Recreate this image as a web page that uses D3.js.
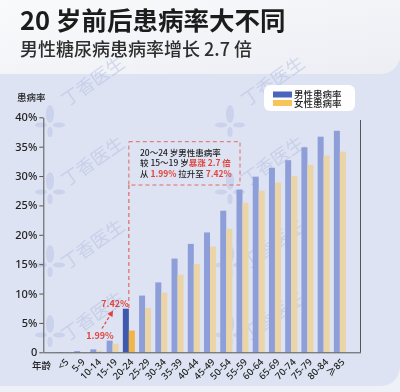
<!DOCTYPE html>
<html><head><meta charset="utf-8">
<script src="https://cdn.jsdelivr.net/npm/d3@7/dist/d3.min.js"></script>
<style>
html,body{margin:0;padding:0;background:#eef1f8;}
svg{display:block;font-family:"Noto Sans CJK SC","Noto Sans",sans-serif;}
</style></head>
<body>
<svg id="c" width="400" height="392"></svg>
<script>
const categories = ["<5","5-9","10-14","15-19","20-24","25-29","30-34","35-39","40-44","45-49","50-54","55-59","60-64","65-69","70-74","75-79","80-84","≥85"];
const maleRates   = [0.05,0.2,0.5,1.99,7.42,9.65,11.9,15.95,18.45,20.4,24.1,27.7,29.9,31.4,32.7,34.9,36.7,37.7];
const femaleRates = [0.03,0.05,0.25,1.45,3.7,7.55,10.15,13.2,15.05,18.0,21.0,25.45,27.5,28.9,30.0,31.9,33.5,34.15];
const yTicks = [0,5,10,15,20,25,30,35,40];
const seriesNames = ["男性患病率","女性患病率"];
const highlightCat = "20-24";

const svg = d3.select("#c");

// backgrounds
svg.append("path")
  .attr("d", `M-10,60 H400 V364 Q400,386 378,386 H-10 Z`)
  .attr("fill", "#dde3f2");
const defs = svg.append("defs");
const hg = defs.append("linearGradient").attr("id","hg").attr("x1",0).attr("y1",0).attr("x2",1).attr("y2",1);
hg.append("stop").attr("offset","0%").attr("stop-color","#fafbfc");
hg.append("stop").attr("offset","100%").attr("stop-color","#eceef4");
svg.append("path")
  .attr("d", `M-10,-10 H400 V52 Q400,74 378,74 H-10 Z`)
  .attr("fill", "url(#hg)");

// watermarks
const wm = svg.append("g").attr("opacity",0.5);
const wmCols = [92, 272];
const wmRows = [80, 160, 243, 315];
const logoRows = [123, 190, 263, 333];
wmCols.forEach(cx => {
  wmRows.forEach(cy => {
    wm.append("text").attr("x",0).attr("y",0)
      .attr("transform",`translate(${cx},${cy}) rotate(-35)`)
      .attr("text-anchor","middle").attr("dominant-baseline","central")
      .attr("font-size",18).attr("fill","#b3bde2").text("丁香医生");
  });
  logoRows.forEach(ly => {
    const lx = cx - 42;
    const g = wm.append("g").attr("transform",`translate(${lx},${ly})`).attr("fill","#b6c0e6");
    g.append("ellipse").attr("cx",0).attr("cy",-9).attr("rx",4).attr("ry",9);
    g.append("ellipse").attr("cx",-9).attr("cy",2).attr("rx",6).attr("ry",2.6);
    g.append("ellipse").attr("cx",9).attr("cy",2).attr("rx",6).attr("ry",2.6);
    g.append("ellipse").attr("cx",0).attr("cy",9).attr("rx",2.6).attr("ry",5);
  });
});

// titles
svg.append("text").attr("x",20).attr("y",30).attr("font-size",25.5).attr("font-weight",700)
  .attr("fill","#1c1c1c").text("20 岁前后患病率大不同");
svg.append("text").attr("x",20).attr("y",56).attr("font-size",18).attr("font-weight",500)
  .attr("fill","#2e2e2e").text("男性糖尿病患病率增长 2.7 倍");

// scales
const x = d3.scaleBand().domain(categories).range([43.3, 360.5]).paddingInner(0.26).paddingOuter(0.9);
const y = d3.scaleLinear().domain([0,40]).range([352.3, 117.3]);
const bw = x.bandwidth()/2;

// y label
svg.append("text").attr("x",17).attr("y",100.5).attr("font-size",9.5).attr("font-weight",500)
  .attr("fill","#222").text("患病率");

// bars
const data = categories.map((c,i)=>({c, m:maleRates[i], f:femaleRates[i]}));
const bars = svg.append("g");
bars.selectAll("rect.m").data(data).join("rect").attr("class","m")
  .attr("x", d=>x(d.c)).attr("width", bw)
  .attr("y", d=>y(d.m)).attr("height", d=>y(0)-y(d.m))
  .attr("fill", d=> d.c===highlightCat ? "#3d58ad" : "#8e9ed9");
bars.selectAll("rect.f").data(data).join("rect").attr("class","f")
  .attr("x", d=>x(d.c)+bw).attr("width", bw)
  .attr("y", d=>y(d.f)).attr("height", d=>y(0)-y(d.f))
  .attr("fill", d=> d.c===highlightCat ? "#f2b548" : "#ebd4a6");

// axes
const yAxis = d3.axisLeft(y).tickValues(yTicks).tickSize(4).tickSizeOuter(0).tickPadding(2)
  .tickFormat(d => d===0 ? "0" : d+"%");
const ya = svg.append("g").attr("transform","translate(43.3,0)").call(yAxis);
ya.select(".domain").attr("stroke","#555");
ya.selectAll(".tick line").attr("stroke","#555");
ya.selectAll(".tick text").attr("font-size",11).attr("font-weight",500).attr("fill","#222")
  .attr("font-family","'Noto Sans','Noto Sans CJK SC',sans-serif");

const xAxis = d3.axisBottom(x).tickSize(0).tickSizeOuter(0);
const xa = svg.append("g").attr("transform",`translate(0,${y(0)})`).call(xAxis);
xa.select(".domain").attr("stroke","#555");
xa.selectAll(".tick text")
  .attr("font-size",9.5).attr("font-weight",500).attr("fill","#222")
  .attr("font-family","'Noto Sans','Noto Sans CJK SC',sans-serif")
  .attr("text-anchor","end").attr("dy","0.35em").attr("y",0)
  .attr("transform","translate(3,8) rotate(-45)");
svg.append("line").attr("x1",360.5).attr("x2",360.5).attr("y1",120).attr("y2",y(0))
  .attr("stroke","#555");

svg.append("text").attr("x",32).attr("y",369).attr("font-size",9.5).attr("font-weight",500)
  .attr("fill","#222").text("年龄");

// legend
const lg = svg.append("g");
lg.append("rect").attr("x",264).attr("y",85).attr("width",91).attr("height",26).attr("rx",6)
  .attr("fill","#ffffff").attr("opacity",0.95);
const legColors = ["#4a65bb","#f6c459"];
seriesNames.forEach((s,i)=>{
  lg.append("rect").attr("x",273).attr("y",91.5+i*8.5).attr("width",19).attr("height",6).attr("fill",legColors[i]);
  lg.append("text").attr("x",294).attr("y",94.3+i*8.8).attr("dominant-baseline","central")
    .attr("font-size",9.5).attr("font-weight",500).attr("fill","#222").text(s);
});

// annotation
const red = "#e0443b";
const hx = x(highlightCat) + bw;
svg.append("rect").attr("x",hx).attr("y",141.7).attr("width",240-hx).attr("height",43.3)
  .attr("fill","none").attr("stroke","#e06a64").attr("stroke-width",1).attr("stroke-dasharray","4,3");
svg.append("line").attr("x1",hx).attr("x2",hx).attr("y1",185).attr("y2",y(maleRates[4]))
  .attr("stroke","#e06a64").attr("stroke-width",1.2).attr("stroke-dasharray","4,3");

const lines = [
  [["20～24 岁男性患病率","#222"]],
  [["较 15～19 岁","#222"],["暴涨 2.7 倍",red]],
  [["从 ","#222"],["1.99%",red],[" 拉升至 ","#222"],["7.42%",red]]
];
lines.forEach((ln,i)=>{
  const t = svg.append("text").attr("x",140).attr("y",151.7+i*10.4).attr("dominant-baseline","central")
    .attr("font-size",8.5).attr("font-weight",500);
  ln.forEach(([s,c])=>{
    t.append("tspan").attr("fill",c).attr("font-weight", c===red?700:500).text(s);
  });
});

svg.append("text").attr("x",115).attr("y",303.5).attr("text-anchor","middle").attr("dominant-baseline","central")
  .attr("font-size",9).attr("font-weight",700).attr("fill",red).text(maleRates[4]+"%");
svg.append("text").attr("x",100).attr("y",335.5).attr("text-anchor","middle").attr("dominant-baseline","central")
  .attr("font-size",9).attr("font-weight",700).attr("fill",red).text(maleRates[3]+"%");
defs.append("marker").attr("id","ah").attr("viewBox","0 0 10 10").attr("refX",5).attr("refY",5)
  .attr("markerWidth",5).attr("markerHeight",5).attr("orient","auto")
  .append("path").attr("d","M0,0 L10,5 L0,10 Z").attr("fill",red);
svg.append("line").attr("x1",102).attr("y1",328.5).attr("x2",111.5).attr("y2",313)
  .attr("stroke",red).attr("stroke-width",1.2).attr("stroke-dasharray","3,2").attr("marker-end","url(#ah)");
</script>
</body></html>
